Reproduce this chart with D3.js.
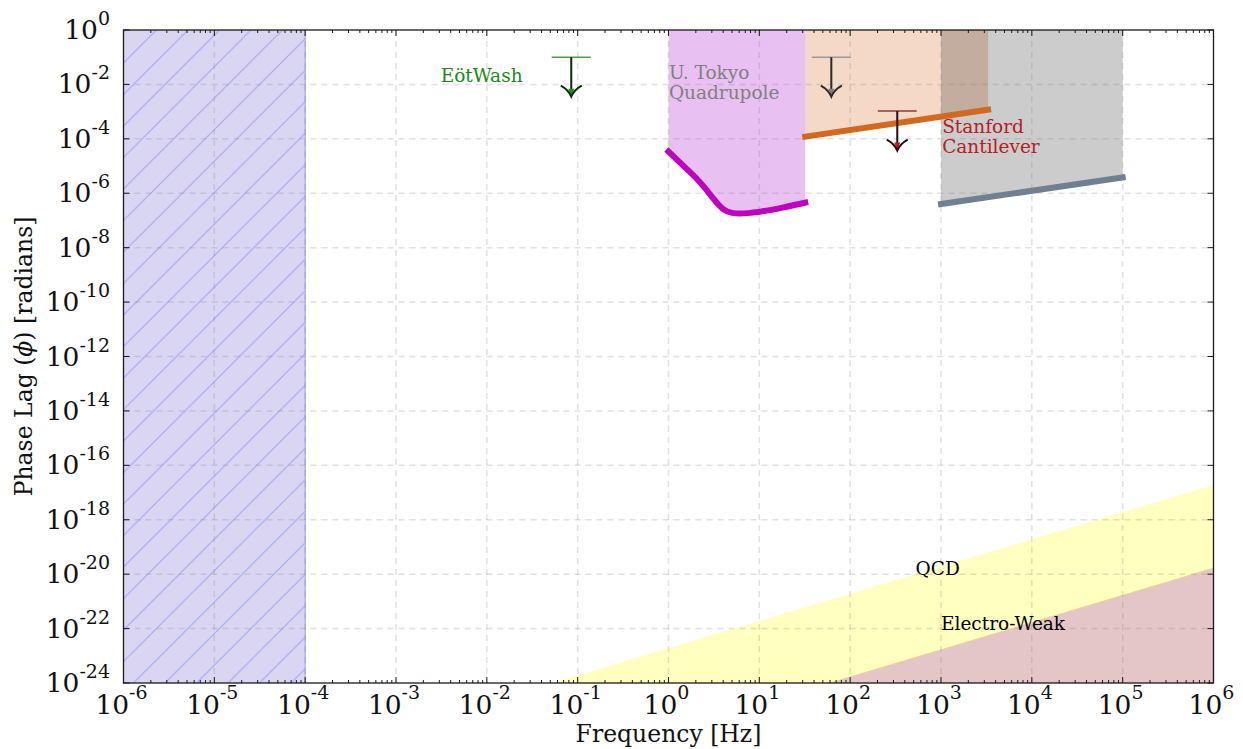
<!DOCTYPE html>
<html><head><meta charset="utf-8">
<script src="https://cdn.jsdelivr.net/npm/d3@7"></script>
<style>body{margin:0;background:#fff}svg{display:block}</style>
</head><body><svg id="c" width="1243" height="749"></svg>
<script>
// ---------- data ----------
const xDomain = [1e-6, 1e6];
const yDomain = [1e-24, 1];
const xTickExps = [-6,-5,-4,-3,-2,-1,0,1,2,3,4,5,6];
const yTickExps = [0,-2,-4,-6,-8,-10,-12,-14,-16,-18,-20,-22,-24];
const excludedF = [1e-6, 1e-4];
const tokyoF   = [1, 1.5, 2, 2.5, 3, 3.5, 4, 5, 6, 8, 12, 20, 32];
const tokyoPhi = [3.4e-5, 9.3e-6, 3.7e-6, 1.6e-6, 7.5e-7, 4.0e-7, 2.6e-7, 1.9e-7, 1.8e-7, 1.9e-7, 2.3e-7, 3.2e-7, 4.5e-7];
const stanfordF   = [32, 3300];
const stanfordPhi = [1.2e-4, 1.17e-3];
const grayF   = [1e3, 1e5];
const grayPhi = [4.0e-7, 3.8e-6];
const qcdF   = [1e-2, 1e6];
const qcdPhi = [1.9e-25, 1.9e-17];
const ewF   = [10, 1e6];
const ewPhi = [1.66e-25, 1.66e-20];
const limitNames = ["EötWash", "U. Tokyo", "Stanford"];
const limitF   = [0.085, 62, 330];
const limitPhi = [0.1, 0.1, 1.05e-3];
const labelTexts = [["EötWash"], ["U. Tokyo","Quadrupole"], ["Stanford","Cantilever"], ["QCD"], ["Electro-Weak"]];
const labelF   = [3.1e-3, 1.01, 1030, 525, 1000];
const labelPhi = [1.2e-2, 1.6e-2, 1.6e-4, 9e-21, 9e-23];

// ---------- setup ----------
const W = 1243, H = 749;
const L = 123.5, R = 1213.5, T = 30, B = 683;
const svg = d3.select("#c");
const x = d3.scaleLog().domain(xDomain).range([L, R]);
const y = d3.scaleLog().domain(yDomain).range([B, T]);
const serif = "'DejaVu Serif', serif";

const defs = svg.append("defs");
defs.append("clipPath").attr("id","plot").append("rect")
  .attr("x",L).attr("y",T).attr("width",R-L).attr("height",B-T);
const pat = defs.append("pattern").attr("id","hatch").attr("patternUnits","userSpaceOnUse")
  .attr("width",31.5).attr("height",31.5).attr("patternTransform","translate(29,0)");
pat.append("path").attr("d","M-8,8 L8,-8 M0,31.5 L31.5,0 M23.5,39.5 L39.5,23.5")
  .attr("stroke","#a0a0f6").attr("stroke-width",1).attr("fill","none");

svg.append("rect").attr("width",W).attr("height",H).attr("fill","#fff");
const g = svg.append("g").attr("clip-path","url(#plot)");

const topPhi = 10, botPhi = 1e-30;

// excluded hatched region
g.append("rect").attr("x",x(excludedF[0])).attr("y",y(topPhi))
  .attr("width",x(excludedF[1])-x(excludedF[0])).attr("height",y(botPhi)-y(topPhi))
  .attr("fill","rgb(218,214,242)");
g.append("rect").attr("x",x(excludedF[0])).attr("y",y(topPhi))
  .attr("width",x(excludedF[1])-x(excludedF[0])).attr("height",y(botPhi)-y(topPhi))
  .attr("fill","url(#hatch)");
g.append("line").attr("x1",x(excludedF[1])).attr("x2",x(excludedF[1]))
  .attr("y1",y(topPhi)).attr("y2",y(botPhi)).attr("stroke","#a6a6f4").attr("stroke-width",1.2);

// shaded experiment regions
const tokyoData = tokyoF.map((f,i)=>[f,tokyoPhi[i]]);
const curve = d3.curveMonotoneX;
g.append("path").datum(tokyoData)
  .attr("d", d3.area().x(d=>x(d[0])).y0(y(topPhi)).y1(d=>y(d[1])).curve(curve))
  .attr("fill","rgb(232,192,241)");
const stanData = stanfordF.map((f,i)=>[f,stanfordPhi[i]]);
g.append("path").datum(stanData)
  .attr("d", d3.area().x(d=>x(d[0])).y0(y(topPhi)).y1(d=>y(d[1])))
  .attr("fill","#d2691e").attr("fill-opacity",0.25);
const grayData = grayF.map((f,i)=>[f,grayPhi[i]]);
g.append("path").datum(grayData)
  .attr("d", d3.area().x(d=>x(d[0])).y0(y(topPhi)).y1(d=>y(d[1])))
  .attr("fill","#000").attr("fill-opacity",0.2);

// QCD and EW bands
const qcdData = qcdF.map((f,i)=>[f,qcdPhi[i]]);
g.append("path").datum(qcdData)
  .attr("d", d3.area().x(d=>x(d[0])).y0(y(botPhi)).y1(d=>y(d[1])))
  .attr("fill","#ffffbf");
const ewData = ewF.map((f,i)=>[f,ewPhi[i]]);
g.append("path").datum(ewData)
  .attr("d", d3.area().x(d=>x(d[0])).y0(y(botPhi)).y1(d=>y(d[1])))
  .attr("fill","rgb(228,198,200)");
g.append("path").datum(ewData)
  .attr("d", d3.line().x(d=>x(d[0])).y(d=>y(d[1])))
  .attr("fill","none").attr("stroke","#f0cf98").attr("stroke-width",1);

// grid
const grid = svg.append("g").attr("stroke","rgba(120,120,120,0.22)").attr("stroke-width",1.5)
  .attr("stroke-dasharray","6,5");
xTickExps.slice(1,-1).forEach(e=>{
  grid.append("line").attr("x1",x(10**e)).attr("x2",x(10**e)).attr("y1",T).attr("y2",B);
});
yTickExps.slice(1,-1).forEach(e=>{
  grid.append("line").attr("x1",L).attr("x2",R).attr("y1",y(10**e)).attr("y2",y(10**e));
});

// thick limit lines
const lg = svg.append("g").attr("fill","none").attr("stroke-linecap","square");
lg.append("path").datum(tokyoData).attr("d", d3.line().x(d=>x(d[0])).y(d=>y(d[1])).curve(curve))
  .attr("stroke","#bf00bf").attr("stroke-width",6).attr("stroke-linejoin","round");
lg.append("path").datum(stanData).attr("d", d3.line().x(d=>x(d[0])).y(d=>y(d[1])))
  .attr("stroke","#d2691e").attr("stroke-width",6);
lg.append("path").datum(grayData).attr("d", d3.line().x(d=>x(d[0])).y(d=>y(d[1])))
  .attr("stroke","#708090").attr("stroke-width",6);

// upper-limit arrows
const capCol  = ["#4f9f4f", "#9a9a9a", "#8f3a3a"];
const stemCol = ["#0d2a0d", "#2a2a2a", "#2a0c0c"];
const headCol = ["#1f8f1f", "#808080", "#b22222"];
limitF.forEach((f,i)=>{
  const cx = x(f), cy = y(limitPhi[i]), tip = cy + 39.5;
  const a = svg.append("g");
  a.append("line").attr("x1",cx-19.5).attr("x2",cx+19.5).attr("y1",cy).attr("y2",cy)
    .attr("stroke",capCol[i]).attr("stroke-width",1.5);
  a.append("line").attr("x1",cx).attr("x2",cx).attr("y1",cy).attr("y2",tip-1)
    .attr("stroke",stemCol[i]).attr("stroke-width",2);
  a.append("path").attr("d",`M${cx-3},${tip-8} L${cx},${tip} L${cx+3},${tip-8} Z`).attr("fill",headCol[i]);
  a.append("path").attr("d",`M${cx-10.5},${tip-11} Q${cx-3},${tip-7} ${cx},${tip} Q${cx+3},${tip-7} ${cx+10.5},${tip-11}`)
    .attr("fill","none").attr("stroke",stemCol[i]).attr("stroke-width",2);
});

// annotation labels
const labelCol = ["#1a8a1a", "#808080", "#b22222", "#000", "#000"];
labelTexts.forEach((lines,i)=>{
  const t = svg.append("text").attr("font-family",serif).attr("font-size",18.5).attr("fill",labelCol[i]);
  lines.forEach((s,j)=>{
    t.append("tspan").attr("x",x(labelF[i])).attr("y",y(labelPhi[i])+j*20).text(s);
  });
});

// frame & ticks
const ax = svg.append("g").attr("stroke","#1a1a1a").attr("stroke-width",1);
xTickExps.forEach(e=>{
  const px = x(10**e);
  ax.append("line").attr("x1",px).attr("x2",px).attr("y1",B).attr("y2",B-6);
  ax.append("line").attr("x1",px).attr("x2",px).attr("y1",T).attr("y2",T+6);
  if (e < 6) for (let m=2;m<=9;m++){
    const mx = x(m*10**e);
    ax.append("line").attr("x1",mx).attr("x2",mx).attr("y1",B).attr("y2",B-3);
    ax.append("line").attr("x1",mx).attr("x2",mx).attr("y1",T).attr("y2",T+3);
  }
});
yTickExps.forEach(e=>{
  const py = y(10**e);
  ax.append("line").attr("x1",L).attr("x2",L+6).attr("y1",py).attr("y2",py);
  ax.append("line").attr("x1",R).attr("x2",R-6).attr("y1",py).attr("y2",py);
});
svg.append("rect").attr("x",L).attr("y",T).attr("width",R-L).attr("height",B-T)
  .attr("fill","none").attr("stroke","#1a1a1a").attr("stroke-width",1.3);

// tick labels
xTickExps.forEach(e=>{
  const t = svg.append("text").attr("font-family",serif).attr("font-size",26.5).attr("fill","#111")
    .attr("text-anchor","middle").attr("x",x(10**e)-2).attr("y",714);
  t.append("tspan").text("10");
  t.append("tspan").attr("font-size",19).attr("dy",-15).text(String(e));
});
yTickExps.forEach(e=>{
  const t = svg.append("text").attr("font-family",serif).attr("font-size",26.5).attr("fill","#111")
    .attr("text-anchor","end").attr("x",110).attr("y",y(10**e)+9);
  t.append("tspan").text("10");
  t.append("tspan").attr("font-size",19).attr("dy",-14).text(String(e));
});

// axis labels
svg.append("text").attr("font-family",serif).attr("font-size",23.5).attr("fill","#111")
  .attr("text-anchor","middle").attr("x",(L+R)/2).attr("y",742).text("Frequency [Hz]");
const yl = svg.append("text").attr("font-family",serif).attr("font-size",23.5).attr("fill","#111")
  .attr("text-anchor","middle").attr("transform",`translate(32,${(T+B)/2}) rotate(-90)`);
yl.append("tspan").text("Phase Lag (");
yl.append("tspan").attr("font-style","italic").text("ϕ");
yl.append("tspan").text(") [radians]");
</script></body></html>
